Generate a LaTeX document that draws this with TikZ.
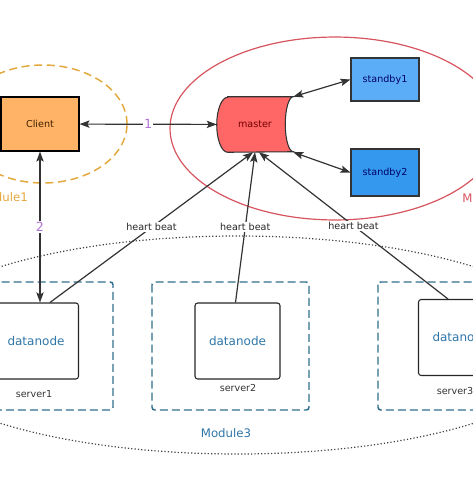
\documentclass[tikz,border=0pt]{standalone}
\usepackage{fontspec}
\setmainfont{DejaVu Sans}
\usetikzlibrary{arrows.meta,backgrounds}
\definecolor{clientfill}{HTML}{FFB366}
\definecolor{masterfill}{HTML}{FF6666}
\definecolor{sb1fill}{HTML}{5CADF7}
\definecolor{sb2fill}{HTML}{3398EE}
\definecolor{lineclr}{HTML}{333333}
\definecolor{modorange}{HTML}{E3A83C}
\definecolor{modred}{HTML}{D6545E}
\definecolor{srvblue}{HTML}{2F6F8F}
\definecolor{dntext}{HTML}{2F76A8}
\definecolor{numclr}{HTML}{B275D6}
\tikzset{
  box/.style = {align=center, inner sep=0pt, text centered,
    font=\fontsize{7.2}{8}\selectfont},
  clientbox/.style = {box, rectangle, draw=black, fill=clientfill,
    text=black!75!orange, thick, minimum width=58.5pt, minimum height=40.5pt},% client
  sbbox/.style = {box, rectangle, draw=black!80, thick,
    text=blue!40!black, minimum width=51pt},% standby
  dnbox/.style = {box, rectangle, rounded corners=2pt, draw=black!85,
    fill=white, thick, text=dntext, font=\fontsize{9}{11}\selectfont,
    minimum width=63.75pt, minimum height=57pt},% datanode
  srvbox/.style = {draw=srvblue, line width=1.1pt, dash pattern=on 6pt off 3pt,
    rounded corners=2pt},
  srvlabel/.style = {box, text=black!80},
  beat/.style = {box, fill=white, inner sep=1pt, text=black!85},
  num/.style = {box, fill=white, inner sep=1pt, text=numclr,
    font=\fontsize{9.5}{11}\selectfont},
  modlabel/.style = {box, font=\fontsize{8.8}{11}\selectfont}
}
\begin{document}
\begin{tikzpicture}[x=0.75pt,y=-0.75pt,
  >={Stealth[length=7.5pt,width=5.5pt,inset=1.5pt]},
  link/.style={lineclr, line width=0.9pt}]
\useasboundingbox (0,0) rectangle (473,477);
% module outlines
\draw[modorange, line width=1.1pt, dash pattern=on 6pt off 3.5pt]
  (43,124) ellipse [x radius=63pt, y radius=44.25pt];
\draw[modred, line width=0.9pt] (335,128.5) ellipse [x radius=123.75pt, y radius=68.6pt];
\draw[black!75, line width=0.9pt, dash pattern=on 0.9pt off 1.6pt]
  (237,345) ellipse [x radius=255pt, y radius=81.75pt];
\node[modlabel, text=modorange, anchor=east] (mod1) at (28,197) {Module1};
\node[modlabel, text=modred, anchor=west] (mod2) at (462,198) {Module2};
\node[modlabel, text=dntext] (mod3) at (226,433) {Module3};
% servers
\draw[srvbox] (-50,282) rectangle (113,410);
\draw[srvbox] (152,282) rectangle (309,410);
\draw[srvbox] (378,282) rectangle (540,410);
% nodes
\node[clientbox] (client) at (40,124) {Client};
\node[box, text=red!45!black, minimum width=57pt, minimum height=41.25pt]
  (master) at (255,124.5) {master};
\begin{pgfonlayer}{background}
\draw[fill=masterfill, draw=black!80, thick]
  ([xshift=8.25pt]master.north west) -- (master.north east)
  arc[start angle=90, end angle=270, x radius=6pt, y radius=20.625pt]
  -- ([xshift=8.25pt]master.south west)
  arc[start angle=270, end angle=90, x radius=8.25pt, y radius=20.625pt] -- cycle;
\end{pgfonlayer}
\node[sbbox, fill=sb1fill, minimum height=32.25pt] (sb1) at (385,79.5) {standby1};
\node[sbbox, fill=sb2fill, minimum height=35.25pt] (sb2) at (385,172.5) {standby2};
\node[dnbox] (dn1) at (36,341) {datanode};
\node[dnbox] (dn2) at (237.5,341) {datanode};
\node[dnbox] (dn3) at (461,337.5) {datanode};
\node[srvlabel] (srv1) at (34,394) {server1};
\node[srvlabel] (srv2) at (238,388) {server2};
\node[srvlabel] (srv3) at (455,391) {server3};
% connectors
\draw[link, <->] (client) -- node[num] {1} (master);
\draw[link, <->] (client.south) -- node[num, pos=0.5] {2} (client.south |- dn1.north);
\draw[link, <->] (master.north east) -- (sb1.west);
\draw[link, <->] (master.south east) -- (sb2.west);
\draw[link, ->] ([xshift=10.5pt]dn1.north) -- node[beat, pos=0.5] {heart beat}
  ([xshift=-1.5pt]master.south);
\draw[link, ->] ([xshift=-1.5pt]dn2.north) -- node[beat, pos=0.5] {heart beat}
  (master.south);
\draw[link, ->] ([xshift=-9.75pt]dn3.north) -- node[beat, pos=0.5] {heart beat}
  ([xshift=3pt]master.south);
\end{tikzpicture}
\end{document}
